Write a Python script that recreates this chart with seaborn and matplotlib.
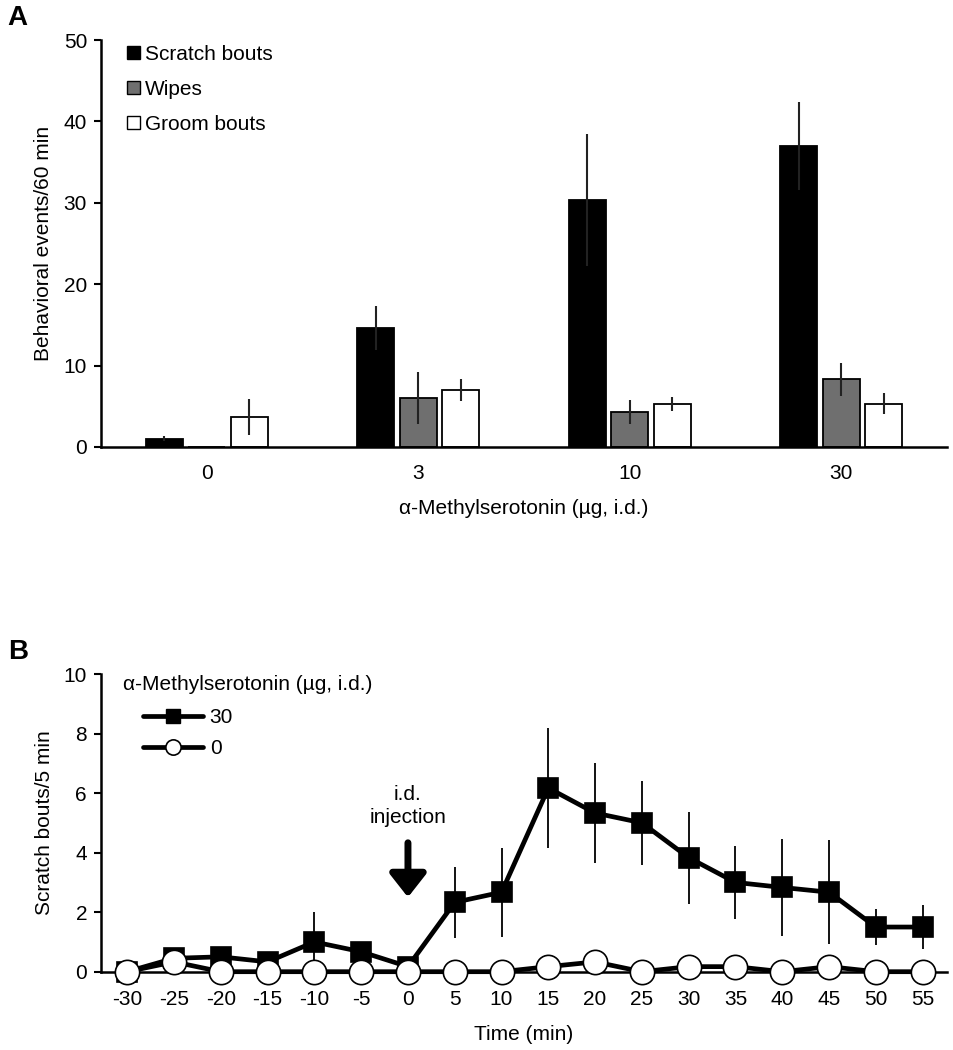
import numpy as np
import pandas as pd
import matplotlib
matplotlib.use("Agg")
import matplotlib.pyplot as plt
from matplotlib.lines import Line2D
from matplotlib.patches import Patch
import seaborn as sns

# ---------------- data ----------------
doses = ["0", "3", "10", "30"]
behaviors = ["Scratch bouts", "Wipes", "Groom bouts"]
scratch = [1.0, 14.6, 30.3, 37.0]
scratch_se = [0.3, 2.7, 8.1, 5.4]
wipes = [0.0, 6.0, 4.3, 8.3]
wipes_se = [0.0, 3.2, 1.5, 2.0]
groom = [3.7, 7.0, 5.3, 5.3]
groom_se = [2.2, 1.4, 0.9, 1.3]

times = [-30, -25, -20, -15, -10, -5, 0, 5, 10, 15, 20, 25, 30, 35, 40, 45, 50, 55]
s30 = [0.0, 0.45, 0.5, 0.33, 1.0, 0.67, 0.17, 2.33, 2.67, 6.17, 5.33, 5.0,
       3.83, 3.0, 2.83, 2.67, 1.5, 1.5]
s30_se = [0.0, 0.2, 0.2, 0.2, 1.0, 0.3, 0.17, 1.2, 1.5, 2.0, 1.67, 1.42,
          1.55, 1.23, 1.63, 1.75, 0.6, 0.74]
s0 = [0.0, 0.33, 0.0, 0.0, 0.0, 0.0, 0.0, 0.0, 0.0, 0.17, 0.33, 0.0,
      0.17, 0.17, 0.0, 0.17, 0.0, 0.0]
s0_se = [0.0, 0.2, 0.0, 0.0, 0.0, 0.0, 0.0, 0.0, 0.0, 0.17, 0.2, 0.0,
         0.17, 0.17, 0.0, 0.17, 0.0, 0.0]

bar_colors = {"Scratch bouts": "#000000", "Wipes": "#6f6f6f", "Groom bouts": "#ffffff"}

# ---------------- style ----------------
sns.set_style("ticks")
plt.rcParams["font.family"] = ["Liberation Sans", "DejaVu Sans"]
plt.rcParams["font.size"] = 15
plt.rcParams["axes.linewidth"] = 1.8
for k in ["text.color", "axes.labelcolor", "xtick.color", "ytick.color",
          "axes.edgecolor"]:
    plt.rcParams[k] = "black"

fig = plt.figure(figsize=(9.54, 10.5), dpi=100)
W, H = 954, 1050
axA = fig.add_axes([101 / W, 1 - 447 / H, 846 / W, 407 / H])
axB = fig.add_axes([101 / W, 1 - 971.7 / H, 846 / W, 297.7 / H])

# ---------------- panel A ----------------
dfA = pd.DataFrame({
    "dose": doses * 3,
    "behavior": sum([[b] * 4 for b in behaviors], []),
    "value": scratch + wipes + groom,
})
sns.barplot(data=dfA, x="dose", y="value", hue="behavior", order=doses,
            hue_order=behaviors, palette=bar_colors, errorbar=None,
            width=0.6, gap=0.125, edgecolor="black", linewidth=1.3,
            legend=False, ax=axA)
ses = [scratch_se, wipes_se, groom_se]
vals = [scratch, wipes, groom]
for cont, v, e in zip(axA.containers, vals, ses):
    xs = [b.get_x() + b.get_width() / 2 for b in cont]
    axA.errorbar(xs, v, yerr=e, fmt="none", ecolor="#222222",
                 elinewidth=1.5, capsize=0, zorder=5)
axA.set_ylim(0, 50)
axA.set_xlim(-0.5, 3.5)
axA.set_yticks(range(0, 51, 10))
axA.tick_params(axis="x", length=0, pad=12, labelsize=15)
axA.tick_params(axis="y", length=5, width=1.5, pad=5, labelsize=15)
axA.set_xlabel("α-Methylserotonin (µg, i.d.)", fontsize=15, labelpad=12)
axA.set_ylabel("Behavioral events/60 min", fontsize=15, labelpad=8)
sns.despine(ax=axA)
handlesA = [Patch(facecolor=bar_colors[b], edgecolor="black", linewidth=1.0)
            for b in behaviors]
axA.legend(handlesA, behaviors, loc="upper left",
           bbox_to_anchor=(26 / 846, 1 - 5 / 407), frameon=False, fontsize=15,
           handlelength=0.6, handleheight=0.6, handletextpad=0.25,
           labelspacing=0.77, borderpad=0, borderaxespad=0)

# ---------------- panel B ----------------
dfB30 = pd.DataFrame({"time": times, "value": s30})
dfB0 = pd.DataFrame({"time": times, "value": s0})
axB.errorbar(times, s30, yerr=s30_se, fmt="none", ecolor="black",
             elinewidth=1.3, capsize=0, zorder=2, clip_on=False)
axB.errorbar(times, s0, yerr=s0_se, fmt="none", ecolor="black",
             elinewidth=1.3, capsize=0, zorder=2, clip_on=False)
sns.lineplot(data=dfB30, x="time", y="value", color="black", marker="s",
             markersize=15, linewidth=3.4, markeredgecolor="black",
             markeredgewidth=1.2, markerfacecolor="black", clip_on=False,
             ax=axB, zorder=3)
sns.lineplot(data=dfB0, x="time", y="value", color="black", marker="o",
             markersize=17.5, linewidth=3.4, markeredgecolor="black",
             markeredgewidth=1.2, markerfacecolor="white", clip_on=False,
             ax=axB, zorder=4)
axB.set_ylim(0, 10)
axB.set_xlim(-32.8, 57.6)
axB.set_xticks(times)
axB.set_xticklabels([str(t) for t in times])
axB.set_yticks(range(0, 11, 2))
axB.tick_params(axis="x", length=0, pad=13, labelsize=15)
axB.tick_params(axis="y", length=5, width=1.5, pad=5, labelsize=15)
axB.set_xlabel("Time (min)", fontsize=15, labelpad=12)
axB.set_ylabel("Scratch bouts/5 min", fontsize=15, labelpad=7)
sns.despine(ax=axB)

hB = [Line2D([], [], color="black", lw=3.4, marker="s", markersize=10,
             mfc="black", mec="black"),
      Line2D([], [], color="black", lw=3.4, marker="o", markersize=11,
             mfc="white", mec="black", mew=1.2)]
axB.text(22 / 846, 1 - 11 / 297.7, "α-Methylserotonin (µg, i.d.)",
         transform=axB.transAxes, fontsize=15, ha="left", va="center")
axB.legend(hB, ["30", "0"], loc="upper left",
           bbox_to_anchor=(42 / 846, 1 - 34 / 297.7), frameon=False,
           fontsize=15, handlelength=2.9, handletextpad=0.3,
           labelspacing=0.6, borderpad=0, borderaxespad=0)

axB.annotate("", xy=(0, 2.5), xytext=(0, 4.33),
             arrowprops=dict(arrowstyle="-|>,head_width=0.55,head_length=0.7",
                             lw=5, color="black", mutation_scale=20,
                             shrinkA=0, shrinkB=0))
axB.text(0, 5.57, "i.d.\ninjection", ha="center", va="center", fontsize=15,
         linespacing=1.25)

fig.text(17 / W, 1 - 18 / H, "A", fontsize=20, fontweight="bold",
         ha="center", va="center")
fig.text(18 / W, 1 - 652 / H, "B", fontsize=20, fontweight="bold",
         ha="center", va="center")

fig.savefig("out.png", dpi=100)
